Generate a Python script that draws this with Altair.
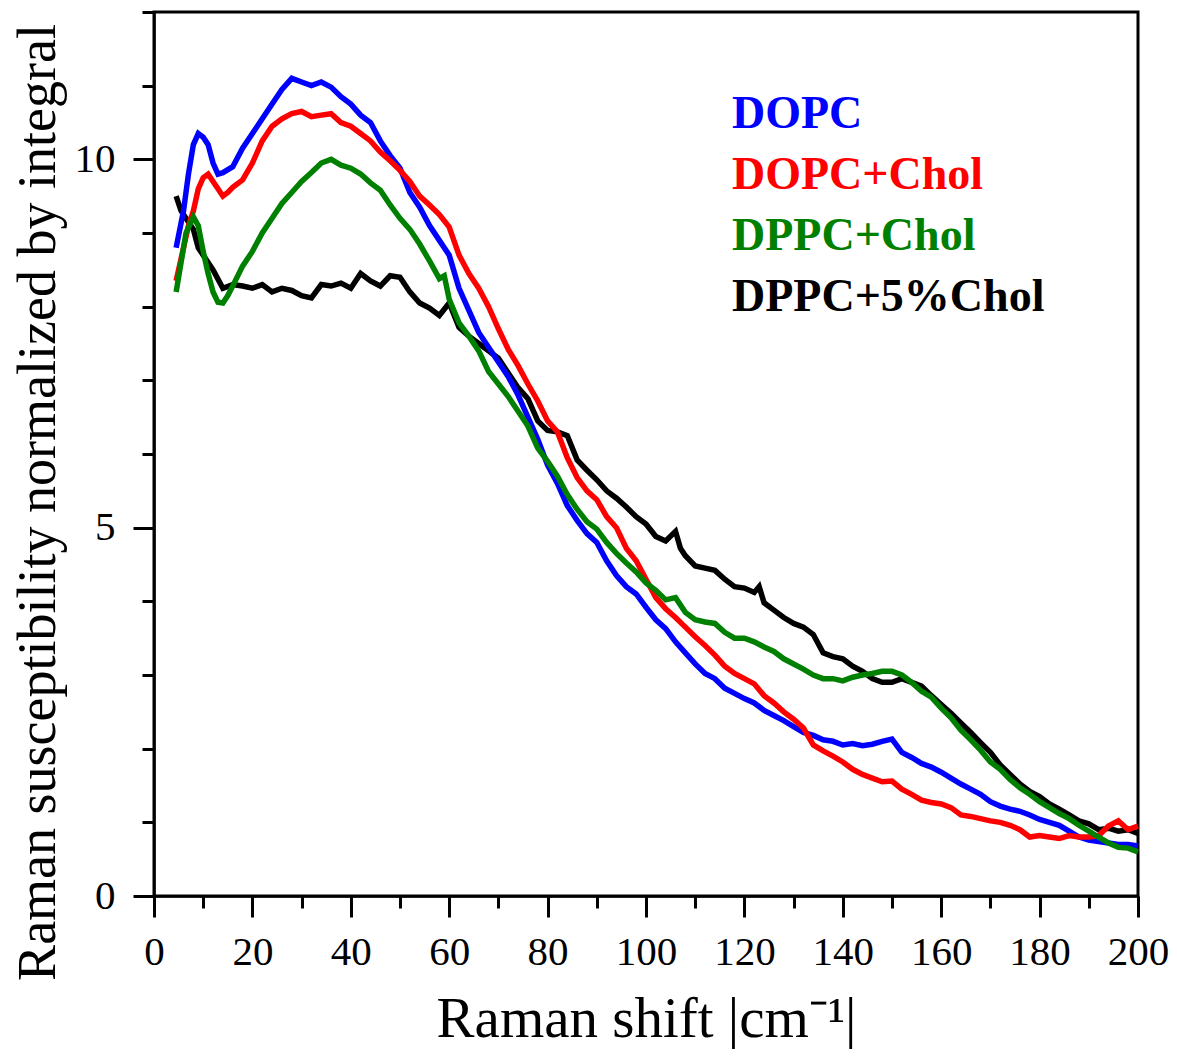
import altair as alt
import pandas as pd

# ---------------- data ----------------
series_names = ["DOPC", "DOPC+Chol", "DPPC+Chol", "DPPC+5%Chol"]
series_colors = ["#0000FF", "#FF0000", "#008000", "#000000"]

dopc_x = [4.5, 6, 7, 8, 9, 10, 11, 12, 13, 14, 16, 18, 20, 22, 24, 26, 28, 30, 32, 34, 36, 38, 40,
          42, 44, 46, 48, 50, 52, 54, 56, 58, 60, 62, 64, 66, 68, 70, 72, 74, 76, 78, 80, 82, 84,
          86, 88, 90, 92, 94, 96, 98, 100, 102, 104, 106, 108, 110, 112, 114, 116, 118, 120, 122,
          124, 126, 128, 130, 132, 134, 136, 138, 140, 142, 144, 146, 148, 150, 152, 154, 156, 158,
          160, 162, 164, 166, 168, 170, 172, 174, 176, 178, 180, 182, 184, 186, 188, 190, 192, 194,
          196, 198, 200]
dopc_y = [8.8, 9.3, 9.8, 10.2, 10.35, 10.3, 10.2, 9.95, 9.8, 9.82, 9.9, 10.15, 10.35, 10.55, 10.75,
          10.95, 11.1, 11.05, 11.0, 11.05, 10.98, 10.85, 10.75, 10.6, 10.5, 10.25, 10.05, 9.88, 9.55,
          9.35, 9.1, 8.9, 8.7, 8.25, 7.95, 7.65, 7.45, 7.25, 7.05, 6.8, 6.5, 6.2, 5.85, 5.6, 5.3, 5.1,
          4.92, 4.8, 4.55, 4.35, 4.2, 4.1, 3.92, 3.75, 3.63, 3.45, 3.3, 3.15, 3.02, 2.95, 2.82, 2.75,
          2.68, 2.62, 2.52, 2.45, 2.38, 2.3, 2.22, 2.18, 2.12, 2.1, 2.05, 2.07, 2.04, 2.06, 2.1, 2.13,
          1.95, 1.88, 1.8, 1.75, 1.68, 1.6, 1.52, 1.45, 1.38, 1.28, 1.22, 1.18, 1.15, 1.1, 1.04, 1.0,
          0.96, 0.88, 0.8, 0.76, 0.74, 0.72, 0.7, 0.7, 0.68]

dopc_chol_x = [4.5, 6, 7, 8, 9, 10, 11, 12, 13, 14, 15, 16, 18, 20, 22, 24, 26, 28, 30, 32, 34, 36,
               38, 40, 42, 44, 46, 48, 50, 52, 54, 56, 58, 60, 62, 64, 66, 68, 70, 72, 74, 76, 78,
               80, 82, 84, 86, 88, 90, 92, 94, 96, 98, 100, 102, 104, 106, 108, 110, 112, 114, 116,
               118, 120, 122, 124, 126, 128, 130, 132, 134, 136, 138, 140, 142, 144, 146, 148, 150,
               152, 154, 156, 158, 160, 162, 164, 166, 168, 170, 172, 174, 176, 178, 180, 182, 184,
               186, 188, 190, 192, 194, 196, 198, 200]
dopc_chol_y = [8.35, 8.8, 9.1, 9.3, 9.6, 9.75, 9.8, 9.7, 9.6, 9.5, 9.55, 9.62, 9.72, 9.95, 10.25,
               10.45, 10.55, 10.62, 10.65, 10.58, 10.6, 10.62, 10.5, 10.45, 10.35, 10.25, 10.1, 9.98,
               9.85, 9.7, 9.5, 9.38, 9.25, 9.08, 8.7, 8.45, 8.25, 8.0, 7.7, 7.42, 7.2, 6.95, 6.72,
               6.45, 6.3, 5.95, 5.68, 5.5, 5.38, 5.15, 5.0, 4.72, 4.55, 4.3, 4.05, 3.9, 3.78, 3.65,
               3.52, 3.4, 3.27, 3.12, 3.02, 2.95, 2.88, 2.72, 2.62, 2.5, 2.4, 2.28, 2.05, 1.97, 1.9,
               1.82, 1.72, 1.65, 1.6, 1.55, 1.56, 1.45, 1.38, 1.3, 1.27, 1.25, 1.2, 1.1, 1.08, 1.05,
               1.02, 1.0, 0.96, 0.9, 0.8, 0.82, 0.8, 0.78, 0.82, 0.8, 0.8, 0.82, 0.95, 1.02, 0.9, 0.95]

dppc_chol_x = [4.5, 5.5, 6.5, 8, 9, 10, 11, 12, 13, 14, 15, 16, 18, 20, 22, 24, 26, 28, 30, 32, 34,
               36, 38, 40, 42, 44, 46, 48, 50, 52, 54, 56, 58, 59, 60, 62, 64, 66, 68, 70, 72, 74,
               76, 78, 80, 82, 84, 86, 88, 90, 92, 94, 96, 98, 100, 102, 104, 106, 108, 110, 112,
               114, 116, 118, 120, 122, 124, 126, 128, 130, 132, 134, 136, 138, 140, 142, 144, 146,
               148, 150, 152, 154, 156, 158, 160, 162, 164, 166, 168, 170, 172, 174, 176, 178, 180,
               182, 184, 186, 188, 190, 192, 194, 196, 198, 200]
dppc_chol_y = [8.2, 8.6, 9.0, 9.22, 9.1, 8.75, 8.45, 8.2, 8.06, 8.05, 8.15, 8.28, 8.55, 8.75, 9.0,
               9.2, 9.4, 9.55, 9.7, 9.82, 9.95, 10.0, 9.92, 9.88, 9.8, 9.68, 9.58, 9.38, 9.2, 9.05,
               8.85, 8.62, 8.38, 8.42, 8.1, 7.78, 7.6, 7.4, 7.12, 6.95, 6.78, 6.58, 6.38, 6.08, 5.9,
               5.7, 5.45, 5.25, 5.08, 4.98, 4.8, 4.65, 4.52, 4.4, 4.25, 4.15, 4.02, 4.05, 3.85, 3.75,
               3.72, 3.7, 3.58, 3.5, 3.5, 3.45, 3.38, 3.32, 3.22, 3.15, 3.08, 3.0, 2.95, 2.95, 2.92,
               2.97, 3.0, 3.02, 3.05, 3.05, 3.0, 2.9, 2.78, 2.7, 2.55, 2.42, 2.25, 2.12, 1.98, 1.82,
               1.72, 1.58, 1.47, 1.38, 1.28, 1.2, 1.12, 1.05, 0.96, 0.88, 0.8, 0.72, 0.66, 0.65, 0.6]

dppc5_x = [4.5, 5.5, 6.5, 8, 9, 10, 12, 14, 16, 18, 20, 22, 24, 26, 28, 30, 32, 34, 36, 38, 40, 42,
           44, 46, 48, 50, 52, 54, 56, 58, 60, 62, 64, 66, 68, 70, 72, 74, 76, 78, 80, 82, 84, 86,
           88, 90, 92, 94, 96, 98, 100, 102, 104, 106, 107, 108, 110, 112, 114, 116, 118, 120, 122,
           123, 124, 126, 128, 130, 132, 134, 136, 138, 140, 142, 144, 146, 148, 150, 152, 154, 156,
           158, 160, 162, 164, 166, 168, 170, 172, 174, 176, 178, 180, 182, 184, 186, 188, 190, 192,
           194, 196, 198, 200]
dppc5_y = [9.5, 9.3, 9.2, 9.05, 8.8, 8.7, 8.5, 8.25, 8.3, 8.28, 8.25, 8.3, 8.2, 8.25, 8.22, 8.15,
           8.12, 8.3, 8.28, 8.32, 8.25, 8.45, 8.35, 8.28, 8.42, 8.4, 8.2, 8.05, 7.98, 7.88, 8.05,
           7.72, 7.6, 7.5, 7.4, 7.3, 7.1, 6.9, 6.75, 6.45, 6.32, 6.3, 6.25, 5.92, 5.78, 5.65, 5.5,
           5.4, 5.28, 5.15, 5.05, 4.88, 4.82, 4.95, 4.72, 4.62, 4.48, 4.45, 4.42, 4.3, 4.2, 4.18,
           4.12, 4.2, 3.98, 3.88, 3.78, 3.7, 3.65, 3.55, 3.3, 3.25, 3.22, 3.12, 3.05, 2.95, 2.9,
           2.9, 2.95, 2.9, 2.85, 2.72, 2.6, 2.48, 2.35, 2.22, 2.08, 1.95, 1.78, 1.65, 1.52, 1.42,
           1.35, 1.25, 1.18, 1.1, 1.02, 0.98, 0.9, 0.92, 0.88, 0.9, 0.85]

x_ticks = list(range(0, 201, 10))
y_ticks = list(range(0, 13))

# ---------------- build table ----------------
frames = []
for name, xs, ys in [
    ("DOPC", dopc_x, dopc_y),
    ("DOPC+Chol", dopc_chol_x, dopc_chol_y),
    ("DPPC+Chol", dppc_chol_x, dppc_chol_y),
    ("DPPC+5%Chol", dppc5_x, dppc5_y),
]:
    frames.append(pd.DataFrame({"shift": xs, "value": ys, "series": name}))
df = pd.concat(frames, ignore_index=True)
legend_df = pd.DataFrame({"series": series_names, "color": series_colors})

FONT = "Liberation Serif"

x_enc = alt.X(
    "shift:Q",
    scale=alt.Scale(domain=[0, 200], nice=False, zero=False),
    axis=alt.Axis(
        values=x_ticks,
        labelExpr="datum.value % 20 === 0 ? datum.label : ''",
        tickSize={"condition": {"test": "datum.value % 20 === 0", "value": 21}, "value": 12},
        tickWidth=3,
        tickColor="black",
        domainColor="black",
        domainWidth=2.5,
        grid=False,
        labelFont=FONT,
        labelFontSize=41,
        labelColor="black",
        labelPadding=15,
        labelOverlap=False,
        labelFlush=False,
        title="Raman shift |cm⁻¹|",
        titleFont=FONT,
        titleFontSize=57,
        titleFontWeight="normal",
        titleColor="black",
        titleBaseline="alphabetic",
        titleY=140,
    ),
)
y_enc = alt.Y(
    "value:Q",
    scale=alt.Scale(domain=[0, 12], nice=False, zero=False),
    axis=alt.Axis(
        values=y_ticks,
        labelExpr="datum.value % 5 === 0 ? datum.label : ''",
        tickSize={"condition": {"test": "datum.value % 5 === 0", "value": 21}, "value": 12},
        tickWidth=3,
        tickColor="black",
        domainColor="black",
        domainWidth=2.5,
        grid=False,
        labelFont=FONT,
        labelFontSize=41,
        labelColor="black",
        labelPadding=18,
        labelOverlap=False,
        labelFlush=False,
        title="Raman susceptibility normalized by integral",
        titleFont=FONT,
        titleFontSize=54,
        titleFontWeight="normal",
        titleColor="black",
        titleAngle=-90,
        titleAlign="center",
        titleBaseline="middle",
        titleX=-116,
        titleY=490,
    ),
)

draw_order = ["DPPC+5%Chol", "DOPC", "DOPC+Chol", "DPPC+Chol"]
line_layers = []
for name in draw_order:
    col = series_colors[series_names.index(name)]
    line_layers.append(
        alt.Chart(df)
        .transform_filter(alt.datum.series == name)
        .mark_line(color=col, strokeWidth=5.5, strokeJoin="miter")
        .encode(x=x_enc, y=y_enc, order="shift:Q")
    )
lines = alt.layer(*line_layers)

legend_text = (
    alt.Chart(legend_df)
    .mark_text(font=FONT, fontSize=46, fontWeight="bold", align="left", baseline="alphabetic")
    .encode(
        x=alt.value(578),
        y=alt.Y(
            "series:N",
            scale=alt.Scale(type="point", domain=series_names, range=[116, 299], padding=0),
            axis=None,
        ),
        color=alt.Color("series:N", scale=alt.Scale(domain=series_names, range=series_colors), legend=None),
        text="series:N",
    )
)

chart = (
    alt.layer(lines, legend_text)
    .resolve_scale(y="independent")
    .properties(
        width=984,
        height=884,
        padding={"left": 146, "top": 4, "right": 31, "bottom": 154},
        autosize="none",
        background="white",
    )
    .configure_view(stroke="black", strokeWidth=3)
)

chart.save("out.html", embed_options={"renderer": "svg", "actions": False})
